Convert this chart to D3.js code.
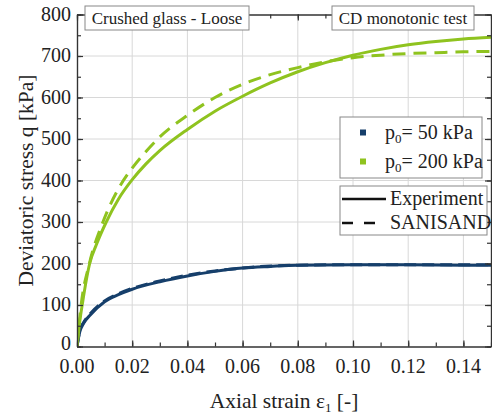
<!DOCTYPE html>
<html>
<head>
<meta charset="utf-8">
<script src="https://cdn.jsdelivr.net/npm/d3@7"></script>
<style>
  body { margin: 0; background: #fff; }
</style>
</head>
<body>
<div id="chart"></div>
<script>
let w = 492;
let h = 414;

// strain values and deviatoric stress [kPa]
let blueExpStrain = [0, 0.001, 0.0024, 0.0048, 0.01, 0.015, 0.02, 0.03, 0.04, 0.05, 0.06, 0.07, 0.08, 0.10, 0.12, 0.14, 0.15];
let blueExpQ      = [0, 35, 56, 76, 108, 125, 138, 156, 170, 181, 189, 193, 196, 197, 197, 196, 196];
let blueSimStrain = [0, 0.001, 0.0024, 0.0048, 0.01, 0.015, 0.02, 0.03, 0.04, 0.05, 0.06, 0.07, 0.08, 0.10, 0.12, 0.14, 0.15];
let blueSimQ      = [0, 38, 58, 79, 110, 127, 140, 158, 172, 182, 189, 194, 196, 197, 197, 197, 197];

let greenExpStrain = [0, 0.001, 0.002, 0.0046, 0.007, 0.0106, 0.015, 0.02, 0.025, 0.03, 0.04, 0.05, 0.06, 0.07, 0.08, 0.09, 0.10, 0.11, 0.12, 0.13, 0.14, 0.15];
let greenExpQ      = [0, 60, 105, 200, 245, 300, 355, 402, 440, 472, 523, 567, 603, 635, 662, 684, 702, 716, 727, 735, 741, 745];
let greenSimStrain = [0, 0.0015, 0.0045, 0.0094, 0.015, 0.02, 0.025, 0.03, 0.04, 0.05, 0.06, 0.07, 0.08, 0.09, 0.10, 0.11, 0.12, 0.13, 0.14, 0.15];
let greenSimQ      = [0, 100, 200, 300, 380, 430, 470, 505, 557, 600, 632, 655, 672, 686, 696, 702, 706, 708, 710, 711];

let xTicks = [0, 0.02, 0.04, 0.06, 0.08, 0.10, 0.12, 0.14];
let yTicks = [0, 100, 200, 300, 400, 500, 600, 700, 800];

let seriesNames = ["p0= 50 kPa", "p0= 200 kPa"];
let modelNames = ["Experiment", "SANISAND"];

let blue = "#163f6b";
let green = "#8fc31f";
let font = "\"Liberation Serif\"";

let pLeft = 77, pRight = 491, pTop = 14.5, pBottom = 346.5;

let x = d3.scaleLinear().domain([0, 0.15]).range([pLeft, pRight]);
let y = d3.scaleLinear().domain([0, 800]).range([pBottom, pTop]);

let svg = d3.select("#chart")
    .append("svg")
    .attr("width", w)
    .attr("height", h);

// grid
svg.append("g")
    .selectAll("line")
    .data(xTicks.slice(1))
    .enter()
    .append("line")
    .attr("x1", d => x(d)).attr("x2", d => x(d))
    .attr("y1", pTop).attr("y2", pBottom)
    .attr("stroke", "#d8d8d8").attr("stroke-width", 1);

svg.append("g")
    .selectAll("line")
    .data(yTicks.slice(1, -1))
    .enter()
    .append("line")
    .attr("x1", pLeft).attr("x2", pRight)
    .attr("y1", d => y(d)).attr("y2", d => y(d))
    .attr("stroke", "#d8d8d8").attr("stroke-width", 1);

// curves
let line = (xs, ys) => d3.line()
    .x(i => x(xs[i]))
    .y(i => y(ys[i]))
    .curve(d3.curveMonotoneX)(d3.range(xs.length));

svg.append("clipPath").attr("id", "clip")
    .append("rect").attr("x", pLeft).attr("y", pTop).attr("width", pRight - pLeft).attr("height", pBottom - pTop);

let curves = svg.append("g").attr("clip-path", "url(#clip)");

curves.append("path")
    .attr("d", line(blueSimStrain, blueSimQ))
    .attr("fill", "none").attr("stroke", blue).attr("stroke-width", 3)
    .attr("stroke-dasharray", "12,6");

curves.append("path")
    .attr("d", line(blueExpStrain, blueExpQ))
    .attr("fill", "none").attr("stroke", blue).attr("stroke-width", 3);

curves.append("path")
    .attr("d", line(greenSimStrain, greenSimQ))
    .attr("fill", "none").attr("stroke", green).attr("stroke-width", 3)
    .attr("stroke-dasharray", "13,8");

curves.append("path")
    .attr("d", line(greenExpStrain, greenExpQ))
    .attr("fill", "none").attr("stroke", green).attr("stroke-width", 3);

// axes with inward ticks
let xMinor = d3.range(0, 0.1501, 0.01);
let yMinor = d3.range(0, 801, 50);

let axisStyle = g => {
    g.select(".domain").attr("stroke", "#333").attr("stroke-width", 1.2);
    g.selectAll(".tick line").attr("stroke", "#333").attr("stroke-width", 1.2);
};

let addAxis = (axis, tx, ty, vals, size) => {
    svg.append("g")
        .attr("transform", "translate(" + tx + "," + ty + ")")
        .call(axis.tickValues(vals).tickSize(size).tickSizeOuter(0).tickFormat(""))
        .call(axisStyle);
};

addAxis(d3.axisTop(x), 0, pBottom, xMinor, 4);
addAxis(d3.axisTop(x), 0, pBottom, xTicks, 6);
addAxis(d3.axisBottom(x), 0, pTop, xMinor, 4);
addAxis(d3.axisBottom(x), 0, pTop, xTicks, 6);
addAxis(d3.axisRight(y), pLeft, 0, yMinor, 4);
addAxis(d3.axisRight(y), pLeft, 0, yTicks, 6);
addAxis(d3.axisLeft(y), pRight, 0, yMinor, 4);
addAxis(d3.axisLeft(y), pRight, 0, yTicks, 6);

// tick labels
svg.append("g")
    .selectAll("text")
    .data(xTicks)
    .enter()
    .append("text")
    .attr("x", d => x(d))
    .attr("y", pBottom + 26.5)
    .attr("text-anchor", "middle")
    .attr("font-size", 20)
    .attr("fill", "#222")
    .style("font-family", font)
    .text(d => d3.format(".2f")(d));

svg.append("g")
    .selectAll("text")
    .data(yTicks)
    .enter()
    .append("text")
    .attr("x", pLeft - 6)
    .attr("y", d => y(d) + (d === 0 ? 3 : 6))
    .attr("text-anchor", "end")
    .attr("font-size", 20)
    .attr("fill", "#222")
    .style("font-family", font)
    .text(d => d);

// axis titles
let xt = svg.append("text")
    .attr("x", 284)
    .attr("y", 408)
    .attr("text-anchor", "middle")
    .attr("font-size", 21.5)
    .attr("fill", "#222")
    .style("font-family", font);
xt.append("tspan").text("Axial strain ε");
xt.append("tspan").attr("font-size", 13).attr("dy", 4).text("1");
xt.append("tspan").attr("dy", -4).text(" [-]");

svg.append("text")
    .attr("transform", "translate(33," + ((pTop + pBottom) / 2) + ") rotate(-90)")
    .attr("text-anchor", "middle")
    .attr("font-size", 21.5)
    .attr("fill", "#222")
    .style("font-family", font)
    .text("Deviatoric stress q [kPa]");

// label boxes
let labelBox = (x0, x1, txt) => {
    svg.append("rect")
        .attr("x", x0).attr("y", 6)
        .attr("width", x1 - x0).attr("height", 24)
        .attr("fill", "#fff").attr("stroke", "#888").attr("stroke-width", 1);
    svg.append("text")
        .attr("x", (x0 + x1) / 2).attr("y", 24)
        .attr("text-anchor", "middle")
        .attr("font-size", 17)
        .attr("fill", "#222")
        .style("font-family", font)
        .text(txt);
};
labelBox(85, 249, "Crushed glass - Loose");
labelBox(332, 474, "CD monotonic test");

// legend 1: confining pressure
svg.append("rect")
    .attr("x", 340).attr("y", 117)
    .attr("width", 142).attr("height", 61)
    .attr("fill", "#fff").attr("stroke", "#888").attr("stroke-width", 1);

let leg1 = svg.append("g")
    .selectAll("g")
    .data(seriesNames)
    .enter()
    .append("g")
    .attr("transform", (d, i) => "translate(0," + (132.5 + i * 29) + ")");

leg1.append("rect")
    .attr("x", 360).attr("y", -3)
    .attr("width", 6).attr("height", 6)
    .attr("fill", (d, i) => i === 0 ? blue : green);

leg1.each(function (d) {
    let t = d3.select(this).append("text")
        .attr("x", 385).attr("y", 6)
        .attr("font-size", 20)
        .attr("fill", "#222")
        .style("font-family", font);
    t.append("tspan").text("p");
    t.append("tspan").attr("font-size", 13).attr("dy", 4).text("0");
    t.append("tspan").attr("dy", -4).text(d.slice(2));
});

// legend 2: line styles
svg.append("rect")
    .attr("x", 340).attr("y", 186)
    .attr("width", 147).attr("height", 49)
    .attr("fill", "#fff").attr("stroke", "#888").attr("stroke-width", 1);

let leg2 = svg.append("g")
    .selectAll("g")
    .data(modelNames)
    .enter()
    .append("g")
    .attr("transform", (d, i) => "translate(0," + (199 + i * 24) + ")");

leg2.append("line")
    .attr("x1", 342).attr("x2", 386)
    .attr("y1", 0).attr("y2", 0)
    .attr("stroke", "#111").attr("stroke-width", 2.5)
    .attr("stroke-dasharray", (d, i) => i === 0 ? null : "11,11");

leg2.append("text")
    .attr("x", 390).attr("y", 6)
    .attr("font-size", 20)
    .attr("fill", "#222")
    .style("font-family", font)
    .text(d => d);
</script>
</body>
</html>
